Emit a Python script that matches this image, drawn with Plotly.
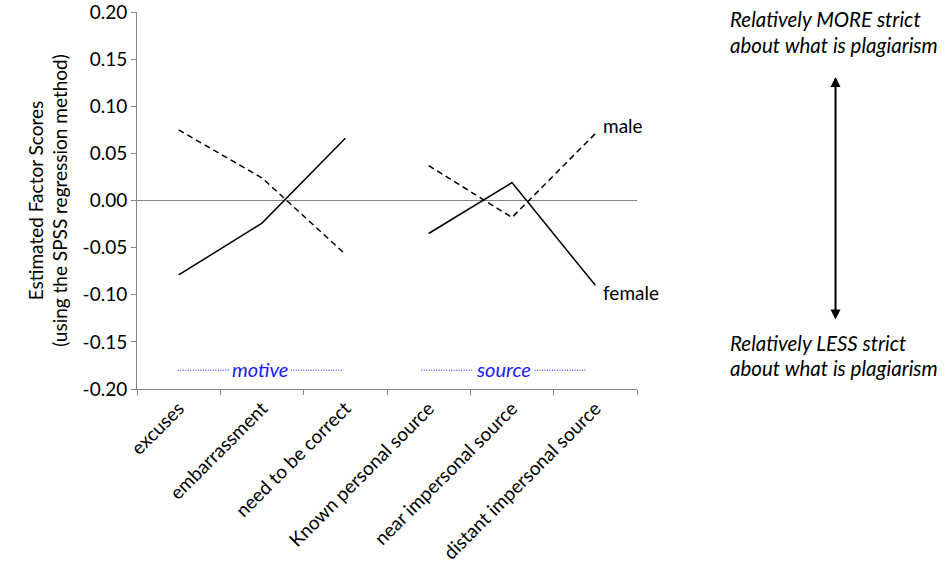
import plotly.graph_objects as go

categories = ["excuses", "embarrassment", "need to be correct",
              "Known personal source", "near impersonal source", "distant impersonal source"]
male = [0.075, 0.024, -0.057, 0.037, -0.018, 0.071]
female = [-0.079, -0.024, 0.066, -0.035, 0.019, -0.090]
group_labels = ["motive", "source"]
group_level = -0.18
ytick_vals = [0.20, 0.15, 0.10, 0.05, 0.00, -0.05, -0.10, -0.15, -0.20]
ytick_text = ["0.20", "0.15", "0.10", "0.05", "0.00", "-0.05", "-0.10", "-0.15", "-0.20"]

FONT = "Lato"
FS = 19
GRAY = "#868686"
BLUE = "#1a1aff"

def split(vals):
    # break the line between the two groups
    xs = categories[:3] + [None] + categories[3:]
    ys = vals[:3] + [None] + vals[3:]
    return xs, ys

fig = go.Figure()
xm, ym = split(male)
xf, yf = split(female)
fig.add_trace(go.Scatter(x=xm, y=ym, mode="lines", name="male",
                         line=dict(color="black", width=1.5, dash="6px,4px"),
                         connectgaps=False))
fig.add_trace(go.Scatter(x=xf, y=yf, mode="lines", name="female",
                         line=dict(color="black", width=1.5),
                         connectgaps=False))

# series labels at the right end
fig.add_annotation(x=categories[-1], y=male[-1], text="male", showarrow=False,
                   xanchor="left", xshift=6, yshift=8, font=dict(size=FS, color="black", family=FONT))
fig.add_annotation(x=categories[-1], y=female[-1], text="female", showarrow=False,
                   xanchor="left", xshift=6, yshift=-7, font=dict(size=FS, color="black", family=FONT))

# group labels with dotted leaders (blue)
group_spans = [(-0.01, 1.96), (2.91, 4.89)]
half_text = 0.37
for (g0, g1), lab in zip(group_spans, group_labels):
    mid = (g0 + g1) / 2
    fig.add_shape(type="line", xref="x", yref="y", x0=g0, x1=mid - half_text,
                  y0=group_level, y1=group_level, line=dict(color=BLUE, width=1, dash="1px,1.5px"))
    fig.add_shape(type="line", xref="x", yref="y", x0=mid + half_text, x1=g1,
                  y0=group_level, y1=group_level, line=dict(color=BLUE, width=1, dash="1px,1.5px"))
    fig.add_annotation(x=mid, y=group_level, text="<i>" + lab + "</i>", showarrow=False,
                       font=dict(size=20, color=BLUE, family=FONT), yshift=1)

# right-side explanatory text and arrow
for txt, yp in [("Relatively MORE strict", 0.981), ("about what is plagiarism", 0.9125),
                ("Relatively LESS strict", 0.122), ("about what is plagiarism", 0.0557)]:
    fig.add_annotation(xref="paper", yref="paper", x=1.181, y=yp, text="<i>" + txt + "</i>",
                       showarrow=False, xanchor="left", yanchor="middle",
                       font=dict(size=20.5, color="black", family=FONT))

fig.add_annotation(xref="paper", yref="paper", x=1.397, y=0.8276, ax=0, ay=244,
                   text="", showarrow=True, arrowhead=2, startarrowhead=2,
                   arrowside="end+start", arrowwidth=2, arrowsize=1, startarrowsize=1,
                   arrowcolor="black")

fig.update_layout(
    width=945, height=569,
    margin=dict(l=137, r=308, t=12, b=180),
    paper_bgcolor="white", plot_bgcolor="white",
    showlegend=False,
    font=dict(family=FONT, size=FS, color="black"),
    xaxis=dict(type="category", categoryorder="array", categoryarray=categories,
               range=[-0.5, 5.5], tickangle=-45, showline=True, linecolor=GRAY,
               ticks="outside", tickson="boundaries", tickcolor=GRAY, ticklen=5,
               showgrid=False, zeroline=False, automargin=False, ticklabeloverflow="allow",
               tickfont=dict(size=19, color="black")),
    yaxis=dict(range=[-0.2, 0.2], tickvals=ytick_vals, ticktext=ytick_text,
               showline=True, linecolor=GRAY, ticks="outside", tickcolor=GRAY, ticklen=5,
               showgrid=False, zeroline=True, zerolinecolor=GRAY, zerolinewidth=1,
               automargin=False, ticklabeloverflow="allow",
               tickfont=dict(size=FS, color="black"),
               title=dict(text="Estimated Factor Scores<br>(using the SPSS regression method)",
                          font=dict(size=FS, color="black"), standoff=9)),
)

# remove the default 8px page margin so the figure fills the window exactly
fig.write_html("out.html", config={"displayModeBar": False},
               post_script="document.body.style.margin='0px';document.body.style.overflow='hidden';")
